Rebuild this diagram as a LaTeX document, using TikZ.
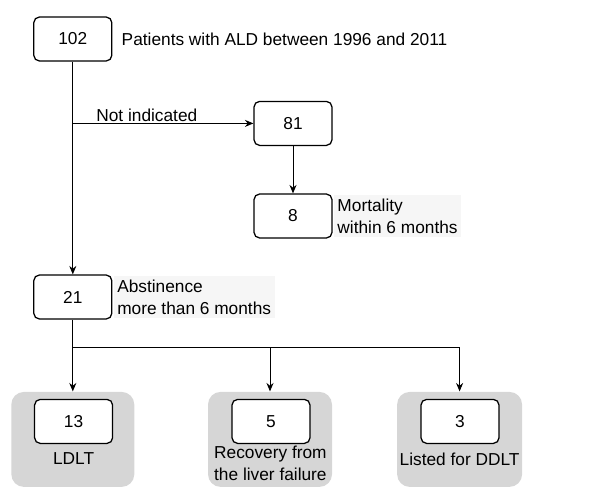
\documentclass[tikz,border=0pt]{standalone}
\usepackage{fontspec}
\setmainfont{Liberation Sans}
\usetikzlibrary{arrows.meta,positioning}

\tikzset{
  countbox/.style={draw, line width=0.9pt, rounded corners=4pt, fill=white,
    minimum width=1.95cm, minimum height=1.1cm, inner sep=0pt},
  groupbox/.style={fill=gray!32, rounded corners=9pt, minimum height=2.375cm},
  note/.style={align=left, fill=gray!7, inner sep=2.5pt},
  >={Stealth[length=6pt,width=5pt]}
}

\begin{document}
\begin{tikzpicture}[font=\fontsize{12.3}{15.8}\selectfont, line width=0.7pt]
    \useasboundingbox (0,0) rectangle (14.9,12.225);

    % Upper part - selection
    \node[countbox] (n102) at (1.82,11.25) {102};
    \node[right=0.22cm of n102, inner sep=0pt] (allpat) {Patients with ALD between 1996 and 2011};
    \node[countbox] (n81) at (7.325,9.14) {81};
    \node[countbox] (n8) at (7.325,6.825) {8};
    \node[note, right=0.6pt of n8] (mort) {Mortality\\within 6 months};
    \node[countbox] (n21) at (1.82,4.8) {21};
    \node[note, right=0.6pt of n21] (abst) {Abstinence\\more than 6 months};

    \coordinate (split) at (n102 |- n81);
    \draw[->] (n102) -- (n21);
    \draw[->] (split) -- node[above, inner sep=1pt, pos=0.41] {Not indicated} (n81);
    \draw[->] (n81) -- (n8);

    % Lower part - outcomes
    \node[groupbox, minimum width=3.075cm] (g13) at (1.82,1.24) {};
    \node[groupbox, minimum width=3.1cm] (g5) at (6.75,1.24) {};
    \node[groupbox, minimum width=3.125cm] (g3) at (11.49,1.24) {};

    \node[countbox] (n13) at (1.84,1.69) {13};
    \node[countbox] (n5) at (6.775,1.69) {5};
    \node[countbox] (n3) at (11.5,1.69) {3};
    \node (ldlt) at (1.84,0.75) {LDLT};
    \node[align=center] (recov) at (6.76,0.65) {Recovery from\\the liver failure};
    \node (listed) at (11.49,0.75) {Listed for DDLT};

    \coordinate (bar) at (1.82,3.55);
    \draw (n21) -- (bar);
    \draw[->] (bar) -- (g13);
    \draw[->] (bar) -| (g5.north);
    \draw[->] (bar) -| (g3.north);
\end{tikzpicture}
\end{document}
